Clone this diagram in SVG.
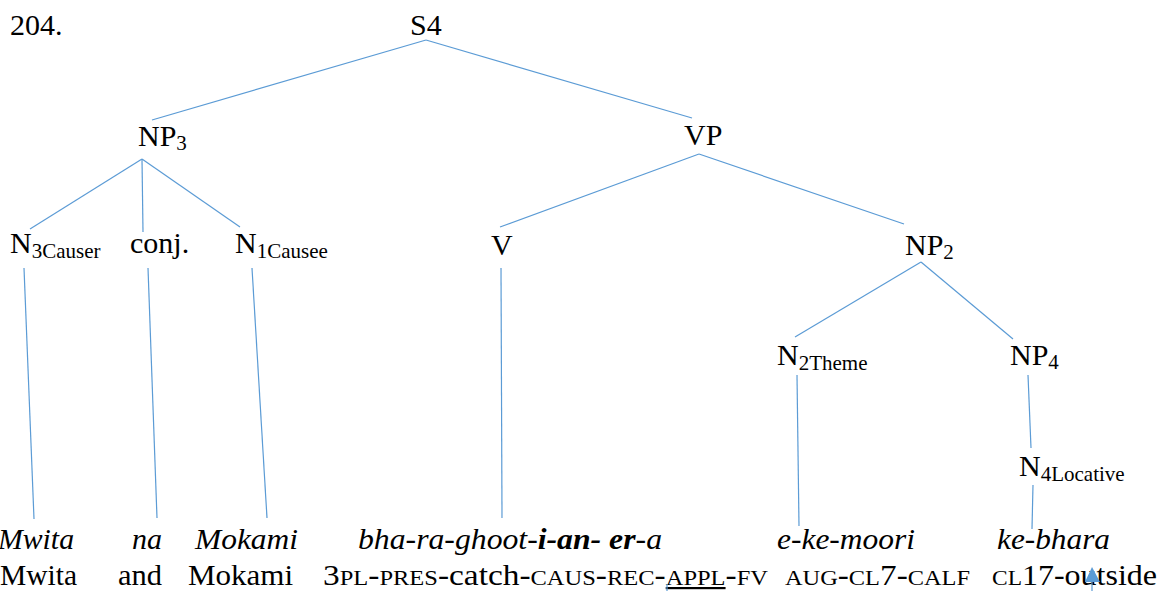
<svg xmlns="http://www.w3.org/2000/svg" width="1170" height="591" viewBox="0 0 1170 591">
  <rect width="1170" height="591" fill="#fff"/>

  <!-- example number -->
  <text id="exnum" x="10" y="35" font-family="Liberation Serif" font-size="30">204.</text>

  <!-- tree edges -->
  <g id="connectors" stroke="#5b9bd5" stroke-width="1.2" fill="none">
    <line x1="426" y1="40" x2="152" y2="120"/>
    <line x1="426" y1="40" x2="692" y2="118"/>
    <line x1="142" y1="159" x2="30" y2="229"/>
    <line x1="142" y1="159" x2="143" y2="232"/>
    <line x1="142" y1="159" x2="240" y2="227"/>
    <line x1="699" y1="154" x2="500" y2="227"/>
    <line x1="699" y1="154" x2="904" y2="224"/>
    <line x1="921" y1="262" x2="795" y2="337"/>
    <line x1="921" y1="262" x2="1013" y2="339"/>
    <line x1="24" y1="268" x2="34" y2="519"/>
    <line x1="148" y1="268" x2="157" y2="518"/>
    <line x1="252" y1="268" x2="267" y2="518"/>
    <line x1="501" y1="268" x2="502" y2="518"/>
    <line x1="797" y1="375" x2="799" y2="526"/>
    <line x1="1028" y1="375" x2="1031" y2="448"/>
    <line x1="1033" y1="485" x2="1032" y2="529"/>
  </g>

  <!-- phrase nodes -->
  <g id="node-S4"><text x="410" y="35" font-family="Liberation Serif" font-size="30">S4</text></g>
  <g id="node-NP3"><text x="138" y="146" font-family="Liberation Serif" font-size="30">NP<tspan font-size="21" dy="4">3</tspan></text></g>
  <g id="node-VP"><text x="684" y="145" font-family="Liberation Serif" font-size="30">VP</text></g>
  <g id="node-N3"><text x="10" y="253" font-family="Liberation Serif" font-size="30">N<tspan font-size="21" dy="4.5">3Causer</tspan></text></g>
  <g id="node-conj"><text x="130" y="253" font-family="Liberation Serif" font-size="30">conj.</text></g>
  <g id="node-N1"><text x="235" y="253" font-family="Liberation Serif" font-size="30">N<tspan font-size="21" dy="4.5">1Causee</tspan></text></g>
  <g id="node-V"><text x="491" y="255" font-family="Liberation Serif" font-size="30">V</text></g>
  <g id="node-NP2"><text x="905" y="255" font-family="Liberation Serif" font-size="30">NP<tspan font-size="21" dy="4">2</tspan></text></g>
  <g id="node-N2"><text x="777" y="365" font-family="Liberation Serif" font-size="30">N<tspan font-size="21" dy="4.5">2Theme</tspan></text></g>
  <g id="node-NP4"><text x="1010" y="365" font-family="Liberation Serif" font-size="30">NP<tspan font-size="21" dy="4">4</tspan></text></g>
  <g id="node-N4"><text x="1019" y="476" font-family="Liberation Serif" font-size="30">N<tspan font-size="21" dy="4.5">4Locative</tspan></text></g>

  <!-- leaves: object-language line -->
  <g id="leaves">
    <text x="-2" y="549" font-family="Liberation Serif" font-size="30" font-style="italic" textLength="76" lengthAdjust="spacingAndGlyphs">Mwita</text>
    <text x="132" y="549" font-family="Liberation Serif" font-size="30" font-style="italic">na</text>
    <text x="195" y="549" font-family="Liberation Serif" font-size="30" font-style="italic" textLength="103" lengthAdjust="spacingAndGlyphs">Mokami</text>
    <text x="358" y="549" font-family="Liberation Serif" font-size="30" font-style="italic" textLength="304" lengthAdjust="spacingAndGlyphs">bha-ra-ghoot-<tspan font-weight="bold">i-an- er</tspan>-a</text>
    <text x="777" y="549" font-family="Liberation Serif" font-size="30" font-style="italic" textLength="138" lengthAdjust="spacingAndGlyphs">e-ke-moori</text>
    <text x="997" y="549" font-family="Liberation Serif" font-size="30" font-style="italic" textLength="113" lengthAdjust="spacingAndGlyphs">ke-bhara</text>
  </g>

  <!-- glosses -->
  <g id="glosses">
    <text x="0" y="585" font-family="Liberation Serif" font-size="30" textLength="77" lengthAdjust="spacingAndGlyphs">Mwita</text>
    <text x="118" y="585" font-family="Liberation Serif" font-size="30" textLength="44" lengthAdjust="spacingAndGlyphs">and</text>
    <text x="188" y="585" font-family="Liberation Serif" font-size="30" textLength="105" lengthAdjust="spacingAndGlyphs">Mokami</text>
    <text x="323" y="585" font-family="Liberation Serif" font-size="30" textLength="445" lengthAdjust="spacingAndGlyphs">3<tspan font-size="22">PL</tspan>-<tspan font-size="22">PRES</tspan>-catch-<tspan font-size="22">CAUS</tspan>-<tspan font-size="22">REC</tspan>-<tspan font-size="22" text-decoration="underline">APPL</tspan>-<tspan font-size="22">FV</tspan></text>
    <text x="785" y="585" font-family="Liberation Serif" font-size="30" textLength="185" lengthAdjust="spacingAndGlyphs"><tspan font-size="22">AUG</tspan>-<tspan font-size="22">CL</tspan>7-<tspan font-size="22">CALF</tspan></text>
    <text x="992" y="585" font-family="Liberation Serif" font-size="30" textLength="165" lengthAdjust="spacingAndGlyphs"><tspan font-size="22">CL</tspan>17-outside</text>
  </g>

  <!-- stray marks -->
  <g id="marks" stroke="#5b9bd5" stroke-width="1.2">
    <line x1="667" y1="584" x2="667" y2="591"/>
    <polygon points="1092,567 1085,582 1100,582" fill="#5b9bd5" stroke="none"/>
    <line x1="1092" y1="582" x2="1092" y2="591"/>
  </g>
</svg>
